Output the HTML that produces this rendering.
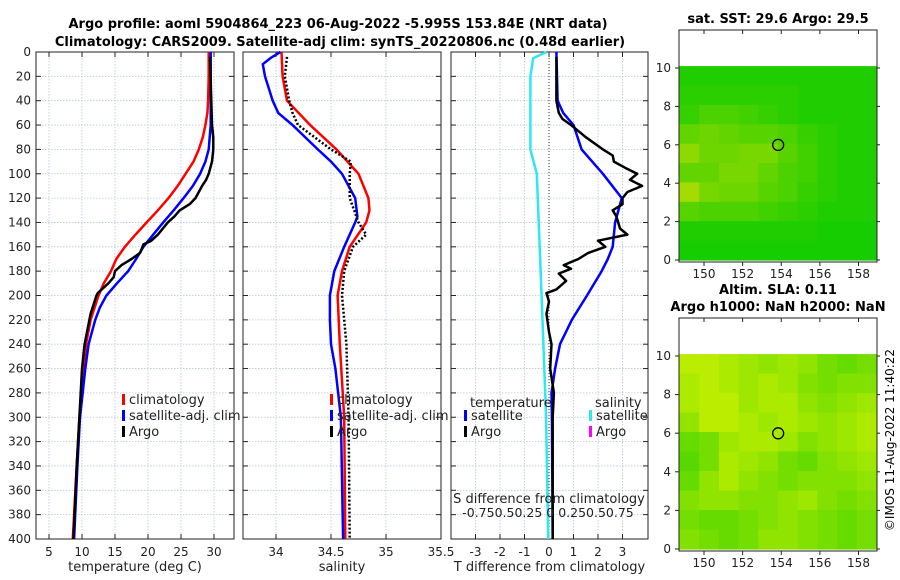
<!DOCTYPE html>
<html><head><meta charset="utf-8"><style>
html,body{margin:0;padding:0;background:#fff;}
svg{display:block;font-family:"DejaVu Sans","Liberation Sans",sans-serif;}
</style></head><body>
<svg id="fig" width="900" height="580" viewBox="0 0 900 580" xmlns="http://www.w3.org/2000/svg">
<text x="338" y="28" font-size="13" font-weight="bold" text-anchor="middle">Argo profile: aoml 5904864_223 06-Aug-2022 -5.995S 153.84E (NRT data)</text>
<text x="340" y="46" font-size="13" font-weight="bold" text-anchor="middle">Climatology: CARS2009. Satellite-adj clim: synTS_20220806.nc (0.48d earlier)</text>
<text x="778" y="23" font-size="13" font-weight="bold" text-anchor="middle">sat. SST: 29.6 Argo: 29.5</text>
<text x="778" y="294" font-size="13" font-weight="bold" text-anchor="middle">Altim. SLA: 0.11</text>
<text x="778" y="311" font-size="13" font-weight="bold" text-anchor="middle">Argo h1000: NaN h2000: NaN</text>
<text transform="translate(894,440) rotate(-90)" font-size="12" text-anchor="middle">©IMOS 11-Aug-2022 11:40:22</text>
<g id="plots"></g>
</svg>
<script>
// ---- data ----
const tClimDepth=[0,20,40,50,60,70,80,90,100,110,120,130,140,150,160,170,180,190,200,220,240,260,280,300,340,400];
const tClim=[29.2,29.2,29.1,29.0,28.7,28.3,27.7,26.9,25.7,24.5,23.1,21.5,19.8,18.1,16.5,15.2,14.4,13.3,12.5,11.3,10.6,10.2,9.9,9.6,9.2,8.6];
const tSatDepth=[0,40,60,80,90,100,110,120,130,140,150,160,170,180,190,200,210,220,240,260,280,300,340,400];
const tSat=[29.5,29.5,29.5,29.2,28.7,27.9,26.8,25.4,23.9,22.3,20.8,19.3,18.2,17.0,15.3,13.7,12.7,12.0,11.0,10.5,10.1,9.7,9.3,8.8];
const tArgoDepth=[4,60,70,80,90,100,105,110,115,120,125,130,135,140,150,155,158,165,170,175,180,185,190,198,200,215,240,260,300,340,400];
const tArgo=[29.4,29.7,29.9,29.9,29.7,29.2,28.8,28.2,27.7,27.2,26.3,24.8,24.0,23.0,21.5,20.5,19.3,18.8,17.5,16.0,15.0,14.8,14.0,12.4,12.2,11.3,10.4,10.0,9.6,9.2,8.7];
const sClimDepth=[0,20,40,60,80,100,120,130,140,160,180,200,240,300,400];
const sClim=[34.05,34.06,34.1,34.31,34.55,34.75,34.84,34.85,34.82,34.67,34.6,34.56,34.58,34.62,34.63];
const sSatDepth=[0,5,10,20,40,50,60,80,90,100,120,135,140,160,180,200,220,240,260,300,400];
const sSat=[34.04,33.95,33.88,33.9,33.97,34.02,34.15,34.38,34.5,34.6,34.72,34.74,34.72,34.62,34.53,34.49,34.49,34.5,34.54,34.59,34.61];
const sArgoDepth=[4,20,40,50,60,70,80,90,100,120,140,150,160,180,200,240,300,400];
const sArgo=[34.1,34.08,34.12,34.15,34.2,34.35,34.5,34.68,34.67,34.67,34.75,34.82,34.7,34.62,34.6,34.64,34.66,34.67];
const dSatDepth=[0,40,50,60,80,100,120,140,160,170,180,200,220,240,260,280,300,400];
const dSat=[0.3,0.35,0.58,1.0,1.33,2.2,2.97,2.7,2.6,2.4,2.15,1.55,0.93,0.45,0.25,0.1,0.12,0.15];
const dArgoDepth=[4,30,40,50,55,60,70,80,85,90,95,100,105,110,115,120,125,130,135,145,150,155,160,165,170,175,178,182,188,195,198,205,215,230,240,260,280,300,400];
const dArgo=[0.3,0.3,0.3,0.4,0.55,0.9,1.5,2.2,2.6,2.65,3.1,3.6,3.3,3.8,3.2,3.0,3.0,2.6,2.75,2.9,3.2,2.0,2.3,1.6,1.2,0.6,0.9,0.4,0.7,0.3,-0.1,0.0,-0.1,0.0,0.1,0.05,0.2,0.15,0.15];
const sDiffDepth=[0,5,20,80,100,200,300,400];
const sDiff=[-0.025,-0.16,-0.19,-0.19,-0.125,-0.075,-0.03,-0.008];
const depthTicks=[0,20,40,60,80,100,120,140,160,180,200,220,240,260,280,300,320,340,360,380,400];
const tTicks=[5,10,15,20,25,30];
const sTicks=[34,34.5,35,35.5];
const dTicks=[-3,-2,-1,0,1,2,3];
const latTicks=[0,2,4,6,8,10];
const lonTicks=[150,152,154,156,158];
const sstGrid=[
[0.1,0.1,0.1,0.1,0.1,0.1,0.1,0.1,0.1,0.1],
[0.15,0.15,0.15,0.15,0.15,0.15,0.1,0.1,0.1,0.1],
[0.2,0.3,0.3,0.25,0.2,0.15,0.1,0.1,0.1,0.1],
[0.4,0.45,0.4,0.35,0.35,0.3,0.2,0.15,0.1,0.1],
[0.6,0.45,0.45,0.5,0.5,0.35,0.25,0.15,0.1,0.1],
[0.4,0.4,0.5,0.5,0.4,0.3,0.25,0.15,0.1,0.1],
[0.7,0.5,0.45,0.45,0.35,0.3,0.2,0.15,0.1,0.1],
[0.35,0.3,0.3,0.3,0.25,0.2,0.15,0.1,0.1,0.1],
[0.1,0.1,0.1,0.1,0.1,0.1,0.1,0.05,0.05,0.05],
[0.05,0.05,0.05,0.05,0.05,0.05,0.05,0.05,0.05,0.05]];
const slaGrid=[
[0.9,0.9,0.8,0.7,0.6,0.7,0.6,0.4,0.3,0.4],
[0.8,0.9,0.8,0.7,0.8,0.7,0.5,0.4,0.5,0.5],
[0.8,0.9,0.9,0.7,0.8,0.8,0.6,0.5,0.6,0.7],
[0.6,0.9,0.9,0.8,0.7,0.8,0.7,0.6,0.7,0.8],
[0.3,0.4,0.7,0.8,0.8,0.7,0.5,0.6,0.7,0.8],
[0.2,0.4,0.8,0.7,0.6,0.4,0.3,0.5,0.6,0.7],
[0.3,0.6,0.8,0.6,0.5,0.4,0.5,0.5,0.5,0.6],
[0.5,0.6,0.6,0.5,0.5,0.6,0.7,0.5,0.4,0.5],
[0.4,0.3,0.3,0.4,0.5,0.6,0.5,0.4,0.3,0.4],
[0.5,0.4,0.3,0.4,0.6,0.6,0.5,0.4,0.3,0.4]];
const argoLon=153.84, argoLat=5.995;

// ---- drawing ----
const NS='http://www.w3.org/2000/svg';
const root=document.getElementById('plots');
function mk(tag,attrs,parent){const e=document.createElementNS(NS,tag);for(const k in attrs)e.setAttribute(k,attrs[k]);(parent||root).appendChild(e);return e;}
const Y0=52,Y1=539;
const yD=d=>Y0+d*(Y1-Y0)/400;
function lin(a,b,p,q){return v=>p+(v-a)*(q-p)/(b-a);}

function panel(name,x0,x1,xs,ticks,fmt,showDepthLabels,xlabel){
  const g=mk('g',{});
  
  
  ticks.forEach(t=>{const x=xs(t);if(x>x0+1&&x<x1-1){const l=mk('line',{x1:x,x2:x,y1:Y0,y2:Y1,stroke:'#b8c4dc','stroke-width':0.8,'stroke-dasharray':'1.5,1.5'},g);}
    const tl=mk('text',{x:x,y:556,'font-size':12,'text-anchor':'middle',fill:'#222'},g);tl.textContent=fmt(t);
    mk('line',{x1:x,x2:x,y1:Y1,y2:Y1-5,stroke:'#222'},g);mk('line',{x1:x,x2:x,y1:Y0,y2:Y0+5,stroke:'#222'},g);});
  depthTicks.forEach(d=>{const y=yD(d);
    if(d>0&&d<400){const l=mk('line',{x1:x0,x2:x1,y1:y,y2:y,stroke:'#b8c4dc','stroke-width':0.8,'stroke-dasharray':'1.5,1.5'},g);}
    mk('line',{x1:x0,x2:x0+5,y1:y,y2:y,stroke:'#222'},g);mk('line',{x1:x1,x2:x1-5,y1:y,y2:y,stroke:'#222'},g);
    if(showDepthLabels){const t=mk('text',{x:x0-5,y:y+4,'font-size':12,'text-anchor':'end',fill:'#222'},g);t.textContent=d;}});
  const b=mk('rect',{x:x0,y:Y0,width:x1-x0,height:Y1-Y0,fill:'none',stroke:'#222','stroke-width':1},g);
  
  const xl=mk('text',{x:(x0+x1)/2,y:571,'font-size':13,'text-anchor':'middle',fill:'#222'},g);xl.textContent=xlabel;
  
  return g;
}
function line(g,xs,depths,vals,color,name,dash){
  const pts=depths.map((d,i)=>xs(vals[i]).toFixed(1)+','+yD(d).toFixed(1)).join(' ');
  const p=mk('polyline',{points:pts,fill:'none',stroke:color,'stroke-width':2.5,'stroke-linejoin':'round'},g);
  if(dash)p.setAttribute('stroke-dasharray',dash);
  
}
function legendEntry(g,x,y,color,label,name){
  mk('rect',{x:x,y:y-9,width:3,height:11,fill:color},g);
  const t=mk('text',{x:x+7,y:y+1,'font-size':13,fill:'#222'},g);t.textContent=label;
  
}
// panel 1 temperature
const xT=lin(5,30,49,214);
const g1=panel('temperature-panel',36,234,xT,tTicks,v=>v,true,'temperature (deg C)');
line(g1,xT,tClimDepth,tClim,'#f00','temp-climatology-line');
line(g1,xT,tSatDepth,tSat,'#00f','temp-satellite-line');
line(g1,xT,tArgoDepth,tArgo,'#000','temp-argo-line');
legendEntry(g1,122,403,'#f00','climatology','legend-climatology');
legendEntry(g1,122,419,'#00f','satellite-adj. clim','legend-satellite');
legendEntry(g1,122,435,'#000','Argo','legend-argo');
// panel 2 salinity
const xS=lin(34,35,276,386);
const g2=panel('salinity-panel',243,441,xS,sTicks,v=>v,false,'salinity');
line(g2,xS,sClimDepth,sClim,'#f00','sal-climatology-line');
line(g2,xS,sSatDepth,sSat,'#00f','sal-satellite-line');
line(g2,xS,sArgoDepth,sArgo,'#000','sal-argo-line','2,2');
legendEntry(g2,330,403,'#f00','climatology','legend-climatology');
legendEntry(g2,330,419,'#00f','satellite-adj. clim','legend-satellite');
legendEntry(g2,330,435,'#000','Argo','legend-argo');
// panel 3 differences
const xDf=lin(0,3,549,622.5);
const xSd=lin(0,1,549,647);
const g3=panel('difference-panel',451,648,xDf,dTicks,v=>v,false,'T difference from climatology');
const z=mk('line',{x1:xDf(0),x2:xDf(0),y1:Y0,y2:Y1,stroke:'#333','stroke-width':1,'stroke-dasharray':'1,2'},g3);

line(g3,xSd,sDiffDepth,sDiff,'#2ee8f0','sdiff-satellite-line');
line(g3,xDf,dSatDepth,dSat,'#00f','tdiff-satellite-line');
line(g3,xDf,dArgoDepth,dArgo,'#000','tdiff-argo-line');
let t=mk('text',{x:470,y:407,'font-size':13,fill:'#222'},g3);t.textContent='temperature';
t=mk('text',{x:595,y:407,'font-size':13,fill:'#222'},g3);t.textContent='salinity';
legendEntry(g3,464,419,'#00f','satellite','legend-t-satellite');
legendEntry(g3,464,435,'#000','Argo','legend-t-argo');
legendEntry(g3,589,419,'#2ee8f0','satellite','legend-s-satellite');
legendEntry(g3,589,435,'#f0f','Argo','legend-s-argo');
t=mk('text',{x:549,y:503,'font-size':13,'text-anchor':'middle',fill:'#222'},g3);t.textContent='S difference from climatology';
t=mk('text',{x:548,y:517,'font-size':12.5,'text-anchor':'middle',fill:'#222'},g3);t.textContent='-0.750.50.25 0  0.250.50.75';

// maps
function lerpCol(v,c0,c1){return 'rgb('+c0.map((c,i)=>Math.round(c+(c1[i]-c)*v)).join(',')+')';}
function map(name,top,zero10,zero0,bottom,grid,c0,c1){
  const g=mk('g',{});
  const X=lin(150,158,704,858.5), Yl=lin(0,10,zero0,zero10);
  const L=679,R=877;
  const lonE=[148.75,159];const rows=grid.length, cols=grid[0].length;
  const cw=(R-L-1)/cols, latTop=10.1, ch=(Yl(0)-Yl(latTop))/rows;
  grid.forEach((row,r)=>row.forEach((v,c)=>{
    const cell=mk('rect',{x:(L+0.5+c*cw).toFixed(2),y:(Yl(latTop)+r*ch).toFixed(2),width:(cw+0.6).toFixed(2),height:(ch+0.6).toFixed(2),fill:lerpCol(v,c0,c1)},g);
    }));
  const ci=mk('circle',{cx:X(argoLon),cy:Yl(argoLat),r:5.5,fill:'none',stroke:'#000','stroke-width':1.3},g);
  
  const b=mk('rect',{x:L,y:top,width:R-L,height:bottom-top,fill:'none',stroke:'#222'},g);
  
  latTicks.forEach(v=>{const y=Yl(v);mk('line',{x1:L,x2:L-4,y1:y,y2:y,stroke:'#222'},g);mk('line',{x1:R,x2:R+3,y1:y,y2:y,stroke:'#222'},g);
    const tl=mk('text',{x:L-8,y:y+4,'font-size':12,'text-anchor':'end',fill:'#222'},g);tl.textContent=v;});
  lonTicks.forEach(v=>{const x=X(v);mk('line',{x1:x,x2:x,y1:bottom,y2:bottom+4,stroke:'#222'},g);mk('line',{x1:x,x2:x,y1:top,y2:top+4,stroke:'#222'},g);
    const tl=mk('text',{x:x,y:bottom+16,'font-size':12,'text-anchor':'middle',fill:'#222'},g);tl.textContent=v;});
}
map('sst-map',30,68,260,262,sstGrid,[10,204,0],[230,225,0]);
map('sla-map',318,356,549,551,slaGrid,[60,210,0],[200,240,0]);
</script>
</body></html>
